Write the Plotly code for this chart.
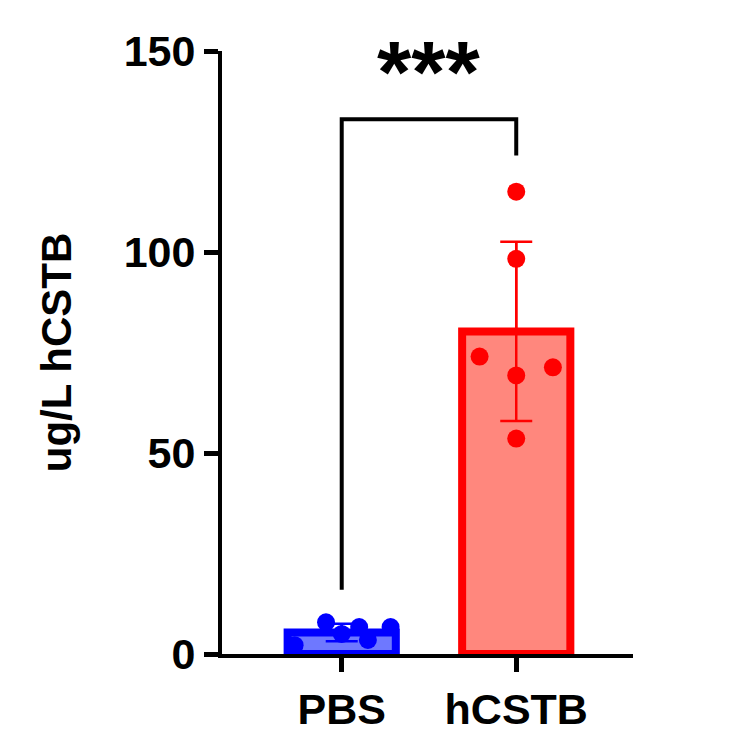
import plotly.graph_objects as go
import numpy as np

groups = ["PBS", "hCSTB"]
pbs_vals = [2.2, 7.9, 6.7, 5.0, 6.7, 3.5]
pbs_jitter = [-0.27, -0.09, 0.1, 0.0, 0.28, 0.15]
hcstb_vals = [115.0, 98.3, 74.0, 69.3, 71.3, 53.6]
hcstb_jitter = [0.0, 0.0, -0.21, 0.0, 0.21, 0.0]
y_ticks = [0, 50, 100, 150]
sig_label = "***"
bracket_y = [16, 133, 124]

vals = [pbs_vals, hcstb_vals]
means = [np.mean(v) for v in vals]
sds = [np.std(v, ddof=1) for v in vals]
fills = ["rgb(110,120,255)", "rgb(255,135,125)"]
lines = ["rgb(0,0,255)", "rgb(255,0,0)"]

fig = go.Figure()
for i in range(2):
    fig.add_trace(go.Bar(x=[i], y=[means[i]], width=0.62,
                         marker=dict(color=fills[i], line=dict(color=lines[i], width=8))))
    fig.add_trace(go.Scatter(x=[i, i], y=[means[i], means[i] + sds[i]], mode="lines",
                             line=dict(color=lines[i], width=2.5)))
    fig.add_trace(go.Scatter(x=[i], y=[means[i]], mode="markers",
                             marker=dict(size=0.1, color=lines[i]),
                             error_y=dict(type="data", array=[sds[i]], color=lines[i],
                                          thickness=2.5, width=16)))
    jit = [pbs_jitter, hcstb_jitter][i]
    fig.add_trace(go.Scatter(x=[i + j for j in jit], y=vals[i], mode="markers",
                             marker=dict(size=18, color=lines[i])))

# significance bracket
fig.add_trace(go.Scatter(x=[0, 0, 1, 1], y=[bracket_y[0], bracket_y[1], bracket_y[1], bracket_y[2]],
                         mode="lines", line=dict(color="black", width=4)))
fig.add_annotation(x=0.5, y=bracket_y[1] - 1, text="<b>" + sig_label + "</b>", showarrow=False,
                   yanchor="bottom", font=dict(size=88, color="black"))

fig.update_layout(width=734, height=746, showlegend=False, plot_bgcolor="white",
                  paper_bgcolor="white", barmode="overlay",
                  margin=dict(l=214, r=109, t=43, b=100),
                  font=dict(family="Liberation Sans, Arial", color="black"))
fig.update_xaxes(range=[-0.686, 1.669], tickvals=[0, 1], ticktext=["<b>%s</b>" % g for g in groups],
                 tickfont=dict(size=43), showline=True, linecolor="black", linewidth=4,
                 ticks="outside", ticklen=14, tickwidth=5, tickcolor="black",
                 showgrid=False, zeroline=False)
fig.update_yaxes(range=[0, 150], tickvals=y_ticks, ticktext=["<b>%d</b>" % t for t in y_ticks],
                 tickfont=dict(size=43), showline=True, linecolor="black", linewidth=4,
                 ticks="outside", ticklen=14, tickwidth=5, tickcolor="black",
                 showgrid=False, zeroline=False,
                 title=dict(text="<b>ug/L hCSTB</b>", font=dict(size=42), standoff=40))
fig.write_html("out.html")
